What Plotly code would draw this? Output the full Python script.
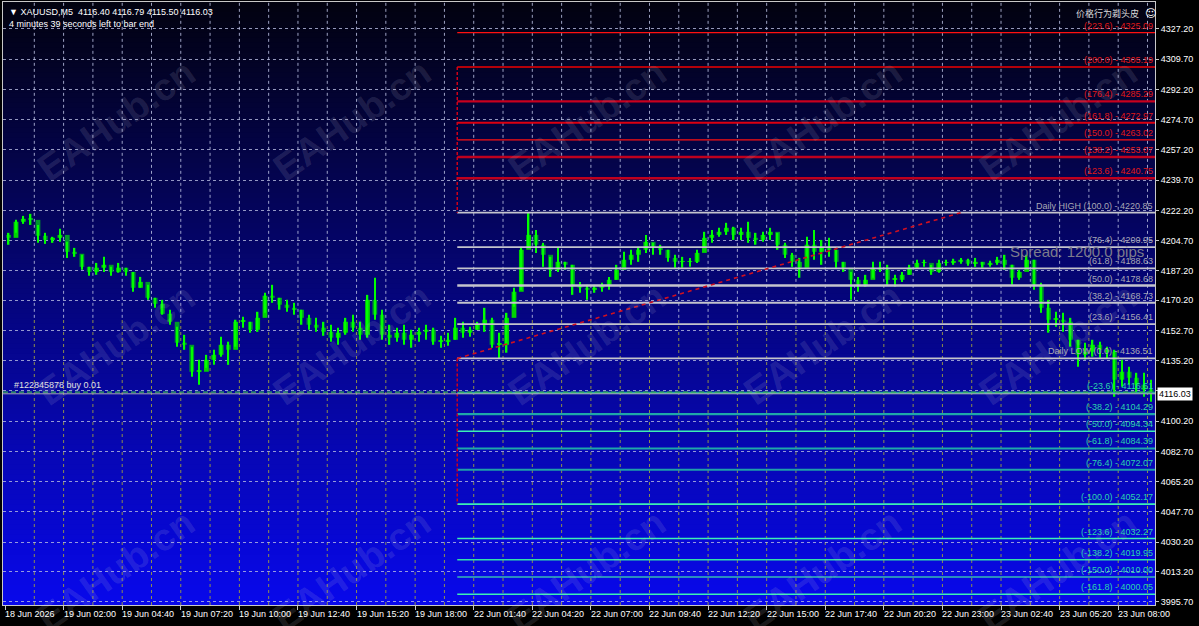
import plotly.graph_objects as go

# ---------------- data ----------------
time_labels = ["18 Jun 2026", "19 Jun 02:00", "19 Jun 04:40", "19 Jun 07:20", "19 Jun 10:00",
               "19 Jun 12:40", "19 Jun 15:20", "19 Jun 18:00", "22 Jun 01:40", "22 Jun 04:20",
               "22 Jun 07:00", "22 Jun 09:40", "22 Jun 12:20", "22 Jun 15:00", "22 Jun 17:40",
               "22 Jun 20:20", "22 Jun 23:00", "23 Jun 02:40", "23 Jun 05:20", "23 Jun 08:00"]
BARS_PER_LABEL = 32      # M5 bars between time labels
BARS_PER_CANDLE = 4      # each drawn candle = 20 minutes

price_ticks = [4327.20, 4309.70, 4292.20, 4274.70, 4257.20, 4239.70, 4222.20, 4204.70, 4187.20,
               4170.20, 4152.70, 4135.20, 4117.70, 4100.20, 4082.70, 4065.20, 4047.70, 4030.20,
               4013.20, 3995.70]
hidden_tick = 4117.70

first_open = 4208.0
highs = [
    4209.2, 4216.7, 4219.0, 4220.2, 4213.8, 4209.2, 4206.9, 4211.5, 4204.0, 4200.5,
    4196.5, 4189.5, 4191.8, 4195.3, 4189.5, 4191.8, 4189.0, 4186.6, 4183.7, 4179.1,
    4171.6, 4170.4, 4164.7, 4154.8, 4150.2, 4143.3, 4135.7, 4138.6, 4141.5, 4149.0,
    4146.2, 4158.9, 4160.6, 4157.7, 4163.5, 4174.5, 4179.1, 4171.6, 4170.4, 4168.7,
    4164.7, 4161.8, 4160.0, 4157.7, 4156.0, 4154.3, 4160.0, 4161.8, 4157.7, 4173.3,
    4183.2, 4164.7, 4156.0, 4154.3, 4156.0, 4153.1, 4154.3, 4156.0, 4154.3, 4149.6,
    4151.4, 4160.0, 4157.7, 4154.8, 4157.7, 4165.8, 4160.0, 4151.4, 4162.9, 4177.4,
    4201.1, 4220.85, 4210.9, 4203.4, 4195.3, 4200.5, 4192.4, 4190.7, 4180.8, 4179.1,
    4179.1, 4180.3, 4183.7, 4190.7, 4198.2, 4199.4, 4201.1, 4208.0, 4203.4, 4202.3,
    4199.4, 4196.5, 4195.3, 4194.7, 4199.4, 4209.8, 4210.9, 4212.1, 4215.0, 4212.7,
    4212.1, 4215.6, 4209.2, 4209.8, 4212.1, 4209.2, 4203.4, 4197.6, 4194.7, 4206.9,
    4210.9, 4205.1, 4206.3, 4199.4, 4192.4, 4186.6, 4183.7, 4184.9, 4192.4, 4192.4,
    4190.7, 4184.9, 4186.6, 4190.7, 4193.6, 4193.6, 4190.7, 4193.6, 4193.6, 4194.2,
    4194.7, 4194.2, 4194.7, 4192.4, 4193.0, 4195.3, 4196.5, 4190.7, 4187.8, 4196.5,
    4193.6, 4180.3, 4170.4, 4163.5, 4162.9, 4160.0, 4147.3, 4145.6, 4147.3, 4146.2,
    4143.3, 4141.5, 4135.7, 4131.7, 4128.2, 4128.2, 4124.2]
lows = [
    4202.3, 4209.2, 4214.4, 4213.8, 4203.4, 4202.8, 4203.4, 4204.0, 4194.7, 4195.3,
    4187.8, 4184.3, 4184.9, 4186.6, 4184.3, 4186.1, 4184.3, 4175.1, 4177.4, 4170.4,
    4165.8, 4161.8, 4156.0, 4143.3, 4141.5, 4125.9, 4121.3, 4131.1, 4132.8, 4137.5,
    4132.8, 4143.3, 4154.3, 4151.4, 4151.9, 4162.9, 4168.7, 4164.7, 4163.5, 4161.8,
    4156.0, 4153.1, 4151.9, 4149.6, 4146.2, 4144.4, 4150.2, 4151.9, 4147.3, 4148.5,
    4158.9, 4147.3, 4144.4, 4146.2, 4144.4, 4142.7, 4146.2, 4147.3, 4144.4, 4142.7,
    4143.8, 4147.3, 4148.5, 4149.0, 4153.1, 4151.9, 4142.7, 4136.51, 4139.8, 4166.4,
    4176.2, 4201.1, 4197.6, 4189.5, 4183.7, 4186.6, 4187.8, 4173.3, 4174.5, 4170.4,
    4174.5, 4175.1, 4176.2, 4182.0, 4189.5, 4190.7, 4192.4, 4197.6, 4196.5, 4196.5,
    4192.4, 4189.0, 4189.0, 4189.5, 4191.8, 4201.1, 4203.4, 4206.9, 4208.0, 4205.1,
    4205.1, 4203.4, 4202.3, 4204.0, 4205.1, 4199.4, 4194.7, 4189.5, 4183.2, 4194.7,
    4193.6, 4190.7, 4195.3, 4189.0, 4186.6, 4170.4, 4175.1, 4178.0, 4183.2, 4186.6,
    4179.1, 4178.0, 4180.8, 4184.9, 4189.0, 4189.5, 4184.9, 4186.1, 4190.1, 4190.7,
    4191.3, 4190.1, 4189.5, 4189.0, 4189.5, 4190.7, 4187.8, 4179.1, 4182.0, 4189.0,
    4176.2, 4162.9, 4151.4, 4154.8, 4151.9, 4143.3, 4131.7, 4135.7, 4137.5, 4136.9,
    4136.3, 4114.3, 4120.1, 4121.3, 4116.6, 4114.3, 4111.4]
closes = [
    4206.3, 4215.6, 4217.3, 4216.7, 4207.5, 4205.1, 4206.3, 4208.0, 4198.2, 4197.1,
    4189.5, 4186.6, 4189.0, 4190.7, 4186.6, 4189.0, 4186.6, 4177.4, 4180.8, 4171.6,
    4168.1, 4162.3, 4157.7, 4145.6, 4144.4, 4128.8, 4128.8, 4135.7, 4138.6, 4144.4,
    4141.5, 4157.7, 4157.7, 4153.1, 4160.0, 4172.8, 4171.6, 4167.6, 4165.8, 4164.7,
    4160.0, 4156.0, 4154.3, 4151.9, 4148.5, 4151.4, 4157.7, 4154.3, 4150.2, 4170.4,
    4161.8, 4150.2, 4148.5, 4151.4, 4147.3, 4150.2, 4151.9, 4153.1, 4146.2, 4146.2,
    4147.3, 4154.3, 4151.4, 4153.1, 4156.0, 4158.9, 4144.4, 4144.4, 4160.0, 4175.1,
    4199.4, 4208.0, 4202.3, 4196.5, 4187.8, 4192.4, 4190.7, 4179.1, 4177.4, 4176.2,
    4177.4, 4179.1, 4182.0, 4187.8, 4193.6, 4196.5, 4199.4, 4204.0, 4200.5, 4199.4,
    4194.7, 4192.4, 4192.4, 4192.4, 4197.6, 4206.3, 4208.0, 4209.8, 4212.1, 4208.0,
    4209.8, 4206.3, 4205.1, 4208.0, 4209.8, 4202.3, 4196.5, 4192.4, 4189.0, 4202.3,
    4198.2, 4200.5, 4199.4, 4192.4, 4189.0, 4182.0, 4179.1, 4182.0, 4189.0, 4187.8,
    4182.0, 4182.0, 4184.9, 4189.0, 4191.8, 4191.8, 4186.6, 4191.8, 4191.8, 4192.4,
    4193.6, 4191.3, 4192.4, 4190.7, 4191.8, 4193.6, 4190.7, 4183.2, 4186.6, 4193.6,
    4179.1, 4165.8, 4158.9, 4158.9, 4157.7, 4147.3, 4138.6, 4140.4, 4144.4, 4141.5,
    4140.4, 4124.2, 4128.8, 4125.3, 4121.3, 4118.4, 4116.03]

bid_price = 4116.03
order_price = 4117.0
order_text = "#122845878 buy 0.01"
header_text = "XAUUSD,M5  4116.40 4116.79 4115.50 4116.03"
timer_text = "4 minutes 39 seconds left to bar end"
spread_text = "Spread: 1200.0 pips"
brand_text = "价格行为剃头皮"
watermark = "EAHub.cn"

fib_levels = ["223.6", "200.0", "176.4", "161.8", "150.0", "138.2", "123.6",
              "100.0", "76.4", "61.8", "50.0", "38.2", "23.6", "0.0",
              "-23.6", "-38.2", "-50.0", "-61.8", "-76.4", "-100.0", "-123.6", "-138.2", "-150.0", "-161.8"]
fib_prices = [4325.09, 4305.19, 4285.29, 4272.97, 4263.02, 4253.07, 4240.75,
              4220.85, 4200.95, 4188.63, 4178.68, 4168.73, 4156.41, 4136.51,
              4116.61, 4104.29, 4094.34, 4084.39, 4072.07, 4052.17, 4032.27, 4019.95, 4010.00, 4000.05]
fib_prefix = {"100.0": "Daily HIGH ", "0.0": "Daily LOW "}
fib_start_bar = 247
diag_end_bar = 522

# ---------------- styles ----------------
FONT = "Liberation Sans, Arial, DejaVu Sans, sans-serif"
line_col = (["#ff1010", "#f00000", "#c8001e", "#dc0010", "#ff1010", "#c0001e", "#c0001e"] +
            ["#c4c4cc"] * 7 +
            ["#2aa6a0", "#1fa8a8", "#3cf0b4", "#1fa8a8", "#1f9fa8", "#3cf0b4", "#3cf0b4", "#33e0a8",
             "#2a8cc0", "#3cf0b4"])
line_w = ([1.4, 1.6, 2.2, 2.0, 1.4, 2.4, 2.4] + [1.8, 1.8, 1.8, 2.6, 1.8, 1.8, 1.8] +
          [2.2, 2.2, 1.6, 2.2, 2.2, 1.6, 1.4, 1.6, 2.2, 1.6])
text_col = ["#e01818"] * 7 + ["#a8a8b4"] * 7 + ["#2ad4ac"] * 10

W, H = 1199, 626
PL, PR, PT, PB = 3, 1155, 2, 605
X0, X1 = -1.1, 628.1
Y0, Y1 = 3993.8, 4342.8


def paper_x(px):
    return (px - PL) / (PR - PL)


def paper_y(py):
    return (PB - py) / (PB - PT)


fig = go.Figure()

# fib lines
for lvl, p, c, w in zip(fib_levels, fib_prices, line_col, line_w):
    fig.add_trace(go.Scatter(x=[fib_start_bar, X1], y=[p, p], mode="lines",
                             line=dict(color=c, width=w), hoverinfo="skip"))
i200, i100, i0, im100 = (fib_levels.index("200.0"), fib_levels.index("100.0"),
                         fib_levels.index("0.0"), fib_levels.index("-100.0"))
fig.add_trace(go.Scatter(x=[fib_start_bar, fib_start_bar, None, fib_start_bar, fib_start_bar],
                         y=[fib_prices[i200], fib_prices[i100], None, fib_prices[i0], fib_prices[im100]],
                         mode="lines", line=dict(color="#d00018", width=1.5, dash="3px,2px"), hoverinfo="skip"))
fig.add_trace(go.Scatter(x=[fib_start_bar, diag_end_bar], y=[fib_prices[i0], fib_prices[i100]],
                         mode="lines", line=dict(color="#d01020", width=1.6, dash="4px,4px"), hoverinfo="skip"))

# order and bid lines
fig.add_trace(go.Scatter(x=[X0, X1], y=[bid_price, bid_price], mode="lines",
                         line=dict(color="#a8a8b0", width=1), hoverinfo="skip"))
fig.add_trace(go.Scatter(x=[X0, X1], y=[order_price, order_price], mode="lines",
                         line=dict(color="#3cb25a", width=1.4, dash="5px,3px"), hoverinfo="skip"))

# candles
opens = [first_open] + closes[:-1]
xs = [BARS_PER_CANDLE * k + BARS_PER_CANDLE / 2 for k in range(len(closes))]
ux, ub, uy, dx, db, dy = [], [], [], [], [], []
for x, o, c in zip(xs, opens, closes):
    lo, hi = min(o, c), max(o, c)
    if c >= o:
        ux.append(x); ub.append(lo); uy.append(max(hi - lo, 0.5))
    else:
        dx.append(x); db.append(lo); dy.append(max(hi - lo, 0.5))
fig.add_trace(go.Bar(x=dx, y=dy, base=db, width=2.6,
                     marker=dict(color="#00962c", line=dict(width=0)), hoverinfo="skip"))
fig.add_trace(go.Bar(x=ux, y=uy, base=ub, width=2.6,
                     marker=dict(color="#00d400", line=dict(width=0)), hoverinfo="skip"))
fig.add_trace(go.Bar(x=xs, y=[h - l for h, l in zip(highs, lows)], base=lows, width=0.8,
                     marker=dict(color="#00ff00", line=dict(width=0)), hoverinfo="skip"))

shapes = []
# gradient background
N = 120
for i in range(N):
    t = (i + 0.5) / N  # 0 bottom -> 1 top
    b = int(round(236 - 221 * t))
    r = int(round(8 * (1 - t) + 2 * t))
    shapes.append(dict(type="rect", xref="paper", yref="paper", x0=0, x1=1, y0=i / N, y1=(i + 1) / N + 0.002,
                       fillcolor=f"rgb({r},{r},{b})", line=dict(width=0), layer="below"))
# vertical grid (two-tone)
split = 4160.0
n_grid = int(X1 // (BARS_PER_LABEL // 2))
for j in range(1, n_grid + 1):
    gx = j * (BARS_PER_LABEL // 2)
    shapes.append(dict(type="line", xref="x", yref="y", x0=gx, x1=gx, y0=split, y1=Y1,
                       line=dict(color="rgba(185,190,225,0.85)", width=1, dash="3px,3px"), layer="below"))
    shapes.append(dict(type="line", xref="x", yref="y", x0=gx, x1=gx, y0=Y0, y1=split,
                       line=dict(color="rgba(150,150,70,0.95)", width=1, dash="3px,3px"), layer="below"))

ann = []
# watermarks (drawn first so other texts sit on top)
for cy in [122, 355, 590]:
    for cx in [118, 363, 608, 853, 1098]:
        ann.append(dict(x=cx / W, y=1 - cy / H, xref="paper", yref="paper", text="<b>" + watermark + "</b>",
                        showarrow=False, textangle=-35, xanchor="center", yanchor="middle",
                        font=dict(family=FONT, size=38, color="rgba(200,200,220,0.15)")))
# fib labels
for lvl, p, tc in zip(fib_levels, fib_prices, text_col):
    ann.append(dict(x=X1, y=p, xref="x", yref="y", xanchor="right", yanchor="bottom", yshift=0,
                    text=f"{fib_prefix.get(lvl, '')}({lvl}) - {p:.2f}", showarrow=False,
                    font=dict(family=FONT, size=9, color=tc)))
# time labels
for i, lab in enumerate(time_labels):
    ann.append(dict(x=i * BARS_PER_LABEL, y=0, xref="x", yref="paper", xanchor="left", yanchor="top",
                    yshift=-2, xshift=-2, text=lab, showarrow=False,
                    font=dict(family=FONT, size=9, color="#ffffff")))
# current price label
ann.append(dict(x=paper_x(1157), y=bid_price, xref="paper", yref="y", xanchor="left", yanchor="middle",
                text=f"{bid_price:.2f}", showarrow=False, bgcolor="#ffffff", borderpad=1,
                font=dict(family=FONT, size=9, color="#000000")))
# header texts
ann.append(dict(x=paper_x(7), y=paper_y(12), xref="paper", yref="paper", xanchor="left", yanchor="middle",
                text="▼ " + header_text, showarrow=False, font=dict(family=FONT, size=9, color="#ffffff")))
ann.append(dict(x=paper_x(7), y=paper_y(24), xref="paper", yref="paper", xanchor="left", yanchor="middle",
                text=timer_text, showarrow=False, font=dict(family=FONT, size=9, color="#ffffff")))
ann.append(dict(x=paper_x(1141), y=paper_y(13), xref="paper", yref="paper", xanchor="right", yanchor="middle",
                text=brand_text, showarrow=False,
                font=dict(family="Noto Sans CJK SC", size=9, color="#d8d8d8")))
ann.append(dict(x=paper_x(1143), y=paper_y(13), xref="paper", yref="paper", xanchor="left", yanchor="middle",
                text="☺", showarrow=False, font=dict(family="DejaVu Sans", size=11, color="#ffffff")))
ann.append(dict(x=paper_x(1146), y=paper_y(251), xref="paper", yref="paper", xanchor="right", yanchor="middle",
                text=spread_text, showarrow=False, font=dict(family=FONT, size=15, color="#7c7c8c")))
ann.append(dict(x=4, y=order_price, xref="x", yref="y", xanchor="left", yanchor="bottom", yshift=0,
                text=order_text, showarrow=False, font=dict(family=FONT, size=9, color="#e0e0e0")))

fig.update_layout(
    width=W, height=H, margin=dict(l=PL, r=W - PR, t=PT, b=H - PB, pad=0),
    paper_bgcolor="#000000", plot_bgcolor="#000000", showlegend=False, barmode="overlay",
    hovermode=False, shapes=shapes, annotations=ann,
    xaxis=dict(range=[X0, X1], showgrid=False, zeroline=False, showline=True, mirror=True,
               linecolor="#c8c8c8", linewidth=1,
               tickvals=[i * BARS_PER_LABEL for i in range(len(time_labels))], ticks="outside",
               ticklen=4, tickcolor="#c8c8c8", showticklabels=False, fixedrange=True),
    yaxis=dict(range=[Y0, Y1], side="right", showgrid=True, gridcolor="rgba(185,190,225,0.8)",
               griddash="3px,3px", gridwidth=1, zeroline=False, showline=True, mirror=True,
               linecolor="#c8c8c8", linewidth=1, tickvals=price_ticks,
               ticktext=["" if v == hidden_tick else f"{v:.2f}" for v in price_ticks],
               ticks="outside", ticklen=3, tickcolor="#c8c8c8",
               tickfont=dict(family=FONT, size=9, color="#ffffff"), fixedrange=True),
)
fig.write_html("out.html", config={"displayModeBar": False},
               post_script="document.body.style.margin='0';document.body.style.padding='0';"
                           "document.body.style.overflow='hidden';document.body.style.background='#000';")
